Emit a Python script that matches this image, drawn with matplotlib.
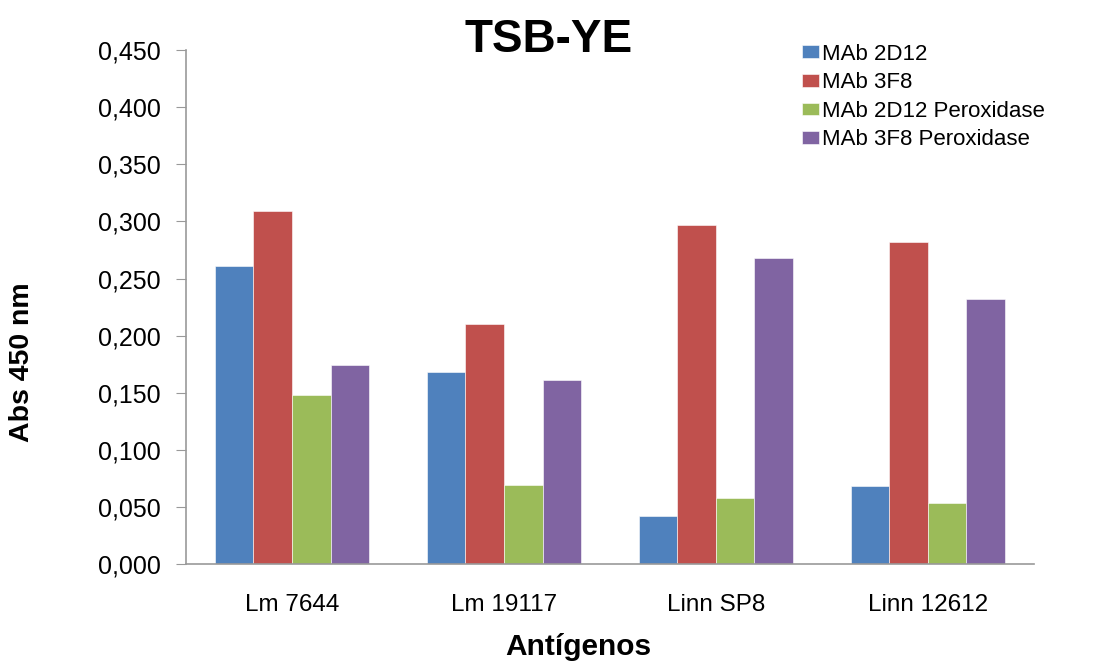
import numpy as np
import matplotlib
matplotlib.use("Agg")
import matplotlib.pyplot as plt
from matplotlib.ticker import FuncFormatter

plt.rcParams['font.family'] = ['Liberation Sans', 'DejaVu Sans']

antigens = ['Lm 7644', 'Lm 19117', 'Linn SP8', 'Linn 12612']
mab_2d12 = [0.261, 0.168, 0.042, 0.068]
mab_3f8 = [0.309, 0.210, 0.297, 0.282]
mab_2d12_perox = [0.148, 0.069, 0.058, 0.053]
mab_3f8_perox = [0.174, 0.161, 0.268, 0.232]

series = [
    ('MAb 2D12', mab_2d12, '#4F81BD'),
    ('MAb 3F8', mab_3f8, '#C0504D'),
    ('MAb 2D12 Peroxidase', mab_2d12_perox, '#9BBB59'),
    ('MAb 3F8 Peroxidase', mab_3f8_perox, '#8064A2'),
]

fig = plt.figure(figsize=(10.94, 6.61), dpi=100)
ax = fig.add_axes([0.170, 0.147, 0.775, 0.777])

x = np.arange(len(antigens))
w = 0.182
for i, (name, vals, col) in enumerate(series):
    ax.bar(x + (i - 1.5) * w, vals, w, color=col, label=name,
           edgecolor='white', linewidth=0.4)

ax.set_xlim(-0.5, 3.5)
ax.set_ylim(0, 0.45)
ax.set_yticks(np.arange(0, 0.4501, 0.05))
ax.yaxis.set_major_formatter(FuncFormatter(lambda v, p: ('%.3f' % v).replace('.', ',')))
ax.set_xticks(x)
ax.set_xticklabels(antigens)
ax.tick_params(axis='y', labelsize=18, length=7, color='#999999', pad=11)
ax.tick_params(axis='x', labelsize=17.5, length=0, pad=22)

for s in ['top', 'right']:
    ax.spines[s].set_visible(False)
for s in ['left', 'bottom']:
    ax.spines[s].set_color('#999999')
    ax.spines[s].set_linewidth(1.2)

ax.set_ylabel('Abs 450 nm', fontsize=20.5, fontweight='bold')
ax.yaxis.set_label_coords(-0.178, 0.393)
ax.set_xlabel('Antígenos', fontsize=21.5, fontweight='bold')
ax.xaxis.set_label_coords(0.463, -0.135)
fig.text(0.501, 0.940, 'TSB-YE', fontsize=33, fontweight='bold', ha='center', va='center')

ax.legend(loc='upper left', bbox_to_anchor=(0.716, 1.03), frameon=False, fontsize=16,
          handlelength=0.75, handleheight=0.5, handletextpad=0.15, labelspacing=0.34,
          borderaxespad=0)

fig.savefig('out.png', dpi=100)
